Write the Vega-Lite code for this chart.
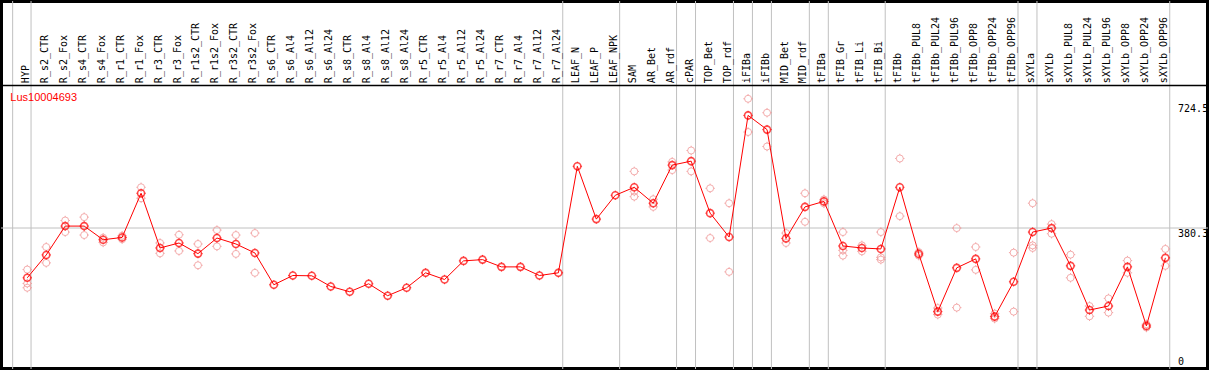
{
  "$schema": "https://vega.github.io/schema/vega-lite/v6.json",
  "width": 1209,
  "height": 370,
  "autosize": {"type": "fit", "contains": "padding"},
  "padding": 0,
  "background": "white",
  "config": {"view": {"stroke": "black", "strokeWidth": 4}},
  "datasets": {
    "cols": [
      {"idx": 0, "name": "HYP", "mean": 243.1},
      {"idx": 1, "name": "R_s2_CTR", "mean": 306.1},
      {"idx": 2, "name": "R_s2_Fox", "mean": 385.6},
      {"idx": 3, "name": "R_s4_CTR", "mean": 385.6},
      {"idx": 4, "name": "R_s4_Fox", "mean": 348.0},
      {"idx": 5, "name": "R_r1_CTR", "mean": 354.3},
      {"idx": 6, "name": "R_r1_Fox", "mean": 476.0},
      {"idx": 7, "name": "R_r3_CTR", "mean": 325.3},
      {"idx": 8, "name": "R_r3_Fox", "mean": 339.0},
      {"idx": 9, "name": "R_r1s2_CTR", "mean": 309.7},
      {"idx": 10, "name": "R_r1s2_Fox", "mean": 352.7},
      {"idx": 11, "name": "R_r3s2_CTR", "mean": 336.3},
      {"idx": 12, "name": "R_r3s2_Fox", "mean": 311.6},
      {"idx": 13, "name": "R_s6_CTR", "mean": 223.9},
      {"idx": 14, "name": "R_s6_Al4", "mean": 249.4},
      {"idx": 15, "name": "R_s6_Al12", "mean": 248.6},
      {"idx": 16, "name": "R_s6_Al24", "mean": 219.2},
      {"idx": 17, "name": "R_s8_CTR", "mean": 204.7},
      {"idx": 18, "name": "R_s8_Al4", "mean": 226.6},
      {"idx": 19, "name": "R_s8_Al12", "mean": 193.8},
      {"idx": 20, "name": "R_s8_Al24", "mean": 215.7},
      {"idx": 21, "name": "R_r5_CTR", "mean": 256.8},
      {"idx": 22, "name": "R_r5_Al4", "mean": 238.4},
      {"idx": 23, "name": "R_r5_Al12", "mean": 289.7},
      {"idx": 24, "name": "R_r5_Al24", "mean": 293.2},
      {"idx": 25, "name": "R_r7_CTR", "mean": 273.2},
      {"idx": 26, "name": "R_r7_Al4", "mean": 273.2},
      {"idx": 27, "name": "R_r7_Al12", "mean": 249.4},
      {"idx": 28, "name": "R_r7_Al24", "mean": 256.8},
      {"idx": 29, "name": "LEAF_N", "mean": 550.3},
      {"idx": 30, "name": "LEAF_P", "mean": 404.8},
      {"idx": 31, "name": "LEAF_NPK", "mean": 470.5},
      {"idx": 32, "name": "SAM", "mean": 492.5},
      {"idx": 33, "name": "AR_Bet", "mean": 448.6},
      {"idx": 34, "name": "AR_rdf", "mean": 553.6},
      {"idx": 35, "name": "cPAR", "mean": 564.5},
      {"idx": 36, "name": "TOP_Bet", "mean": 421.2},
      {"idx": 37, "name": "TOP_rdf", "mean": 355.4},
      {"idx": 38, "name": "iFIBa", "mean": 690.6},
      {"idx": 39, "name": "iFIBb", "mean": 651.4},
      {"idx": 40, "name": "MID_Bet", "mean": 351.6},
      {"idx": 41, "name": "MID_rdf", "mean": 438.5},
      {"idx": 42, "name": "tFIBa", "mean": 453.6},
      {"idx": 43, "name": "tFIB_Gr", "mean": 330.8},
      {"idx": 44, "name": "tFIB_Li", "mean": 325.3},
      {"idx": 45, "name": "tFIB_Bi", "mean": 322.6},
      {"idx": 46, "name": "tFIBb", "mean": 492.5},
      {"idx": 47, "name": "tFIBb_PUL8", "mean": 308.9},
      {"idx": 48, "name": "tFIBb_PUL24", "mean": 149.9},
      {"idx": 49, "name": "tFIBb_PUL96", "mean": 270.5},
      {"idx": 50, "name": "tFIBb_OPP8", "mean": 295.2},
      {"idx": 51, "name": "tFIBb_OPP24", "mean": 136.2},
      {"idx": 52, "name": "tFIBb_OPP96", "mean": 232.1},
      {"idx": 53, "name": "sXYLa", "mean": 369.1},
      {"idx": 54, "name": "sXYLb", "mean": 380.1},
      {"idx": 55, "name": "sXYLb_PUL8", "mean": 276.0},
      {"idx": 56, "name": "sXYLb_PUL24", "mean": 154.3},
      {"idx": 57, "name": "sXYLb_PUL96", "mean": 165.3},
      {"idx": 58, "name": "sXYLb_OPP8", "mean": 273.2},
      {"idx": 59, "name": "sXYLb_OPP24", "mean": 110.4},
      {"idx": 60, "name": "sXYLb_OPP96", "mean": 298.0}
    ],
    "reps": [
      {"idx": 0, "v": 265.8}, {"idx": 0, "v": 227.5}, {"idx": 0, "v": 215.7},
      {"idx": 1, "v": 328.0}, {"idx": 1, "v": 284.2},
      {"idx": 2, "v": 400.9}, {"idx": 2, "v": 369.1},
      {"idx": 3, "v": 410.2}, {"idx": 3, "v": 360.9},
      {"idx": 4, "v": 353.5}, {"idx": 4, "v": 340.6},
      {"idx": 5, "v": 359.0}, {"idx": 5, "v": 349.4},
      {"idx": 6, "v": 492.5}, {"idx": 6, "v": 462.3},
      {"idx": 7, "v": 339.0}, {"idx": 7, "v": 310.5},
      {"idx": 8, "v": 361.7}, {"idx": 8, "v": 317.1},
      {"idx": 9, "v": 336.3}, {"idx": 9, "v": 277.6},
      {"idx": 10, "v": 374.6}, {"idx": 10, "v": 329.7},
      {"idx": 11, "v": 360.9}, {"idx": 11, "v": 308.9},
      {"idx": 12, "v": 366.4}, {"idx": 12, "v": 256.8},
      {"idx": 32, "v": 536.3}, {"idx": 32, "v": 480.9}, {"idx": 32, "v": 466.7},
      {"idx": 33, "v": 459.6}, {"idx": 33, "v": 438.5},
      {"idx": 34, "v": 562.6}, {"idx": 34, "v": 539.9},
      {"idx": 35, "v": 593.9}, {"idx": 35, "v": 536.3},
      {"idx": 36, "v": 489.7}, {"idx": 36, "v": 352.7},
      {"idx": 37, "v": 448.6}, {"idx": 37, "v": 259.5},
      {"idx": 38, "v": 736.4}, {"idx": 38, "v": 644.8},
      {"idx": 39, "v": 698.0}, {"idx": 39, "v": 604.8},
      {"idx": 40, "v": 366.4}, {"idx": 40, "v": 339.0},
      {"idx": 41, "v": 476.0}, {"idx": 41, "v": 397.4},
      {"idx": 42, "v": 459.0}, {"idx": 42, "v": 448.1},
      {"idx": 43, "v": 369.1}, {"idx": 43, "v": 304.2}, {"idx": 43, "v": 318.7},
      {"idx": 44, "v": 332.4}, {"idx": 44, "v": 316.0},
      {"idx": 45, "v": 369.1}, {"idx": 45, "v": 299.5}, {"idx": 45, "v": 293.2},
      {"idx": 46, "v": 571.9}, {"idx": 46, "v": 413.0},
      {"idx": 47, "v": 313.8}, {"idx": 47, "v": 304.2},
      {"idx": 48, "v": 159.8}, {"idx": 48, "v": 141.7},
      {"idx": 49, "v": 380.1}, {"idx": 49, "v": 160.9},
      {"idx": 50, "v": 328.0}, {"idx": 50, "v": 265.0},
      {"idx": 51, "v": 144.4}, {"idx": 51, "v": 130.7},
      {"idx": 52, "v": 312.4}, {"idx": 52, "v": 149.9},
      {"idx": 53, "v": 448.6}, {"idx": 53, "v": 332.4}, {"idx": 53, "v": 325.3},
      {"idx": 54, "v": 391.1}, {"idx": 54, "v": 364.5},
      {"idx": 55, "v": 306.9}, {"idx": 55, "v": 243.1},
      {"idx": 56, "v": 165.3}, {"idx": 56, "v": 137.0},
      {"idx": 57, "v": 186.4}, {"idx": 57, "v": 147.2},
      {"idx": 58, "v": 290.5}, {"idx": 58, "v": 256.8},
      {"idx": 59, "v": 115.1}, {"idx": 59, "v": 106.1},
      {"idx": 60, "v": 322.6}, {"idx": 60, "v": 276.0}
    ],
    "seps": [
      {"pos": -0.77}, {"pos": 0.2}, {"pos": 28.23}, {"pos": 31.23}, {"pos": 34.23},
      {"pos": 35.23}, {"pos": 37.23}, {"pos": 38.23}, {"pos": 39.23}, {"pos": 41.23},
      {"pos": 42.23}, {"pos": 45.23}, {"pos": 52.23}, {"pos": 53.23}, {"pos": 60.23}
    ],
    "grid": [{"v": 380.3}],
    "divider": [{"v": 772.8}],
    "ticks": [{"v": 724.5, "label": "724.5"}, {"v": 380.3, "label": "380.3"}, {"v": 0, "label": "0"}],
    "title": [{"t": "Lus10004693", "x": -0.89, "v": 739.1}]
  },
  "layer": [
    {
      "data": {"name": "seps"},
      "mark": {"type": "rule", "color": "#c0c0c0", "strokeWidth": 1},
      "encoding": {
        "x": {"field": "pos", "type": "quantitative", "axis": null, "scale": {"domain": [-1.384, 62.247], "nice": false, "zero": false}}
      }
    },
    {
      "data": {"name": "grid"},
      "mark": {"type": "rule", "color": "#c0c0c0", "strokeWidth": 1},
      "encoding": {
        "y": {"field": "v", "type": "quantitative", "axis": null, "scale": {"domain": [-8.2, 1005.8], "nice": false, "zero": false}}
      }
    },
    {
      "data": {"name": "divider"},
      "mark": {"type": "rule", "color": "black", "strokeWidth": 1.6},
      "encoding": {
        "y": {"field": "v", "type": "quantitative", "axis": null, "scale": {"domain": [-8.2, 1005.8], "nice": false, "zero": false}}
      }
    },
    {
      "data": {"name": "cols"},
      "mark": {"type": "text", "angle": 270, "align": "left", "baseline": "middle", "font": "DejaVu Sans Mono", "fontSize": 10, "color": "black", "dy": -1.5},
      "encoding": {
        "x": {"field": "idx", "type": "quantitative", "axis": null, "scale": {"domain": [-1.384, 62.247], "nice": false, "zero": false}},
        "y": {"datum": 779.5, "type": "quantitative", "axis": null, "scale": {"domain": [-8.2, 1005.8], "nice": false, "zero": false}},
        "text": {"field": "name"}
      }
    },
    {
      "data": {"name": "reps"},
      "mark": {"type": "point", "shape": "circle", "filled": false, "size": 49, "stroke": "#f08c8c", "strokeWidth": 1},
      "encoding": {
        "x": {"field": "idx", "type": "quantitative", "axis": null, "scale": {"domain": [-1.384, 62.247], "nice": false, "zero": false}},
        "y": {"field": "v", "type": "quantitative", "axis": null, "scale": {"domain": [-8.2, 1005.8], "nice": false, "zero": false}}
      }
    },
    {
      "data": {"name": "reps"},
      "mark": {"type": "point", "shape": "M0,-1L0,-1.35M0,1L0,1.35M-1,0L-1.35,0M1,0L1.35,0", "filled": false, "size": 49, "stroke": "#f08c8c", "strokeWidth": 1},
      "encoding": {
        "x": {"field": "idx", "type": "quantitative", "axis": null, "scale": {"domain": [-1.384, 62.247], "nice": false, "zero": false}},
        "y": {"field": "v", "type": "quantitative", "axis": null, "scale": {"domain": [-8.2, 1005.8], "nice": false, "zero": false}}
      }
    },
    {
      "data": {"name": "cols"},
      "mark": {"type": "line", "color": "red", "strokeWidth": 1},
      "encoding": {
        "x": {"field": "idx", "type": "quantitative", "axis": null, "scale": {"domain": [-1.384, 62.247], "nice": false, "zero": false}},
        "y": {"field": "mean", "type": "quantitative", "axis": null, "scale": {"domain": [-8.2, 1005.8], "nice": false, "zero": false}}
      }
    },
    {
      "data": {"name": "cols"},
      "mark": {"type": "point", "shape": "circle", "filled": false, "size": 49, "stroke": "red", "strokeWidth": 1.6},
      "encoding": {
        "x": {"field": "idx", "type": "quantitative", "axis": null, "scale": {"domain": [-1.384, 62.247], "nice": false, "zero": false}},
        "y": {"field": "mean", "type": "quantitative", "axis": null, "scale": {"domain": [-8.2, 1005.8], "nice": false, "zero": false}}
      }
    },
    {
      "data": {"name": "cols"},
      "mark": {"type": "point", "shape": "M0,-1L0,-1.35M0,1L0,1.35M-1,0L-1.35,0M1,0L1.35,0", "filled": false, "size": 49, "stroke": "red", "strokeWidth": 1},
      "encoding": {
        "x": {"field": "idx", "type": "quantitative", "axis": null, "scale": {"domain": [-1.384, 62.247], "nice": false, "zero": false}},
        "y": {"field": "mean", "type": "quantitative", "axis": null, "scale": {"domain": [-8.2, 1005.8], "nice": false, "zero": false}}
      }
    },
    {
      "data": {"name": "ticks"},
      "transform": [{"filter": "datum.v > 0"}],
      "mark": {"type": "text", "align": "left", "baseline": "top", "font": "DejaVu Sans Mono", "fontSize": 10, "color": "black", "dy": 1},
      "encoding": {
        "x": {"datum": 60.668, "type": "quantitative", "axis": null, "scale": {"domain": [-1.384, 62.247], "nice": false, "zero": false}},
        "y": {"field": "v", "type": "quantitative", "axis": null, "scale": {"domain": [-8.2, 1005.8], "nice": false, "zero": false}},
        "text": {"field": "label"}
      }
    },
    {
      "data": {"name": "ticks"},
      "transform": [{"filter": "datum.v == 0"}],
      "mark": {"type": "text", "align": "left", "baseline": "bottom", "font": "DejaVu Sans Mono", "fontSize": 10, "color": "black", "dy": 1},
      "encoding": {
        "x": {"datum": 60.668, "type": "quantitative", "axis": null, "scale": {"domain": [-1.384, 62.247], "nice": false, "zero": false}},
        "y": {"field": "v", "type": "quantitative", "axis": null, "scale": {"domain": [-8.2, 1005.8], "nice": false, "zero": false}},
        "text": {"field": "label"}
      }
    },
    {
      "data": {"name": "title"},
      "mark": {"type": "text", "align": "left", "baseline": "middle", "font": "Liberation Sans", "fontSize": 11, "color": "red"},
      "encoding": {
        "x": {"field": "x", "type": "quantitative", "axis": null, "scale": {"domain": [-1.384, 62.247], "nice": false, "zero": false}},
        "y": {"field": "v", "type": "quantitative", "axis": null, "scale": {"domain": [-8.2, 1005.8], "nice": false, "zero": false}},
        "text": {"field": "t"}
      }
    }
  ]
}
